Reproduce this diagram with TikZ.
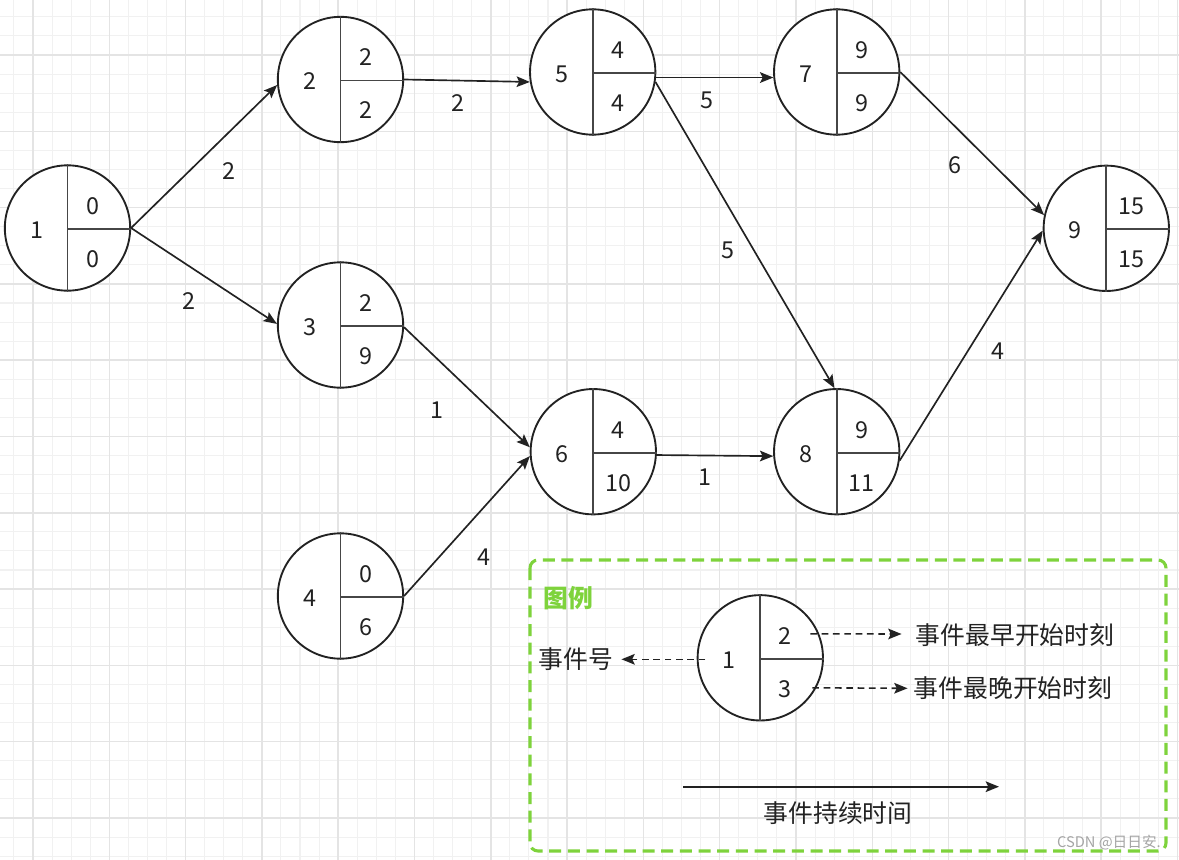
\documentclass[tikz,border=0pt]{standalone}
\usepackage{fontspec}
\setmainfont{Noto Sans CJK SC}
\usetikzlibrary{arrows.meta,calc}
\definecolor{grmin}{RGB}{241,241,241}
\definecolor{grmaj}{RGB}{228,228,228}
\definecolor{ink}{RGB}{34,34,34}
\definecolor{divc}{RGB}{70,70,70}
\definecolor{lgreen}{RGB}{126,211,60}
\definecolor{wmark}{RGB}{165,165,165}
\newcommand\evnode[6]{%
  \node[ev] (#1) at (#2,#3) {};
  \draw[divline] (#1.north) -- (#1.south);
  \draw[divline] ($(#1.center)+(0,1)$) -- ($(#1.east)+(0,1)$);
  \node[num] (#1-id) at ($(#1.center)+(-31,2)$) {#4};
  \node[num] (#1-e) at ($(#1.center)+(25,-22)$) {#5};
  \node[num] (#1-l) at ($(#1.center)+(25,31)$) {#6};
}
\begin{document}
\begin{tikzpicture}[x=0.75pt,y=-0.75pt,
  ev/.style={circle,draw=ink,line width=1.4pt,minimum size=94pt,inner sep=0pt,fill=white},
  divline/.style={draw=divc,line width=1.3pt},
  num/.style={font=\fontsize{17.5}{20}\selectfont,text=ink,inner sep=0pt},
  lab/.style={font=\fontsize{17.5}{20}\selectfont,text=ink,inner sep=0pt},
  cjk/.style={font=\fontsize{18.6}{22}\selectfont,text=ink,inner sep=0pt},
  conn/.style={draw=ink,line width=1.25pt,-{Stealth[length=10pt,width=8pt,inset=2pt]}},
  dconn/.style={draw=ink,line width=1.2pt,dash pattern=on 5pt off 3.5pt,-{Stealth[length=10pt,width=8pt,inset=2pt]}},
  minorline/.style={draw=grmin,line width=0.8pt},
  majorline/.style={draw=grmaj,line width=1.1pt}
]
\fill[white] (0,0) rectangle (1179,860);
\useasboundingbox (0,0) rectangle (1179,860);
\begin{scope}
\clip (0,0) rectangle (1179,860);
\foreach \i in {0,...,61}{
  \pgfmathsetmacro\gx{13.9+\i*19.075}
  \draw[minorline] (\gx,0) -- (\gx,860);
}
\foreach \j in {0,...,44}{
  \pgfmathsetmacro\gy{16.85+\j*19.075}
  \draw[minorline] (0,\gy) -- (1179,\gy);
}
\foreach \i in {0,...,15}{
  \pgfmathsetmacro\gx{33+\i*76.3}
  \draw[majorline] (\gx,0) -- (\gx,860);
}
\foreach \j in {0,...,10}{
  \pgfmathsetmacro\gy{55+\j*76.3}
  \draw[majorline] (0,\gy) -- (1179,\gy);
}
\end{scope}

% event nodes
\evnode{n1}{67.5}{228}{1}{0}{0}
\evnode{n2}{340.5}{79.5}{2}{2}{2}
\evnode{n3}{340.5}{325}{3}{2}{9}
\evnode{n4}{340.5}{596}{4}{0}{6}
\evnode{n5}{592.7}{72}{5}{4}{4}
\evnode{n6}{593.3}{451.7}{6}{4}{10}
\evnode{n7}{836.7}{72}{7}{9}{9}
\evnode{n8}{836.7}{451.7}{8}{9}{11}
\evnode{n9}{1106.3}{228.3}{9}{15}{15}

% connectors
\draw[conn] (n1.east) -- (n2.185);
\draw[conn] (n1.east) -- (n3.179);
\draw[conn] (n2.east) -- (n5.189);
\draw[conn] (n5.355) -- (n7.185);
\draw[conn] (n5.351) -- (n8.92);
\draw[conn] (n7.east) -- (n9.168);
\draw[conn] (n8.352) -- (n9.182);
\draw[conn] (n3.358) -- (n6.176);
\draw[conn] (n4.east) -- (n6.184);
\draw[conn] (n6.357) -- (n8.184);

% connector labels
\node[lab] (w12) at (229,171) {2};
\node[lab] (w13) at (189,301) {2};
\node[lab] (w25) at (458,103) {2};
\node[lab] (w57) at (707,100) {5};
\node[lab] (w79) at (955,165) {6};
\node[lab] (w58) at (728,250) {5};
\node[lab] (w89) at (998,351) {4};
\node[lab] (w36) at (437,410) {1};
\node[lab] (w46) at (484,557) {4};
\node[lab] (w68) at (705,477) {1};

% legend
\draw[lgreen,line width=2.3pt,dash pattern=on 9pt off 5pt,rounded corners=6pt] (530,560) rectangle (1166,851);
\node[font=\bfseries\fontsize{18.6}{22}\selectfont,text=lgreen,inner sep=0pt] (lt) at (568,597.7) {图例};
\evnode{L}{760.3}{657.8}{1}{2}{3}
\node[cjk] (t1) at (576,659.3) {事件号};
\node[cjk] (t2) at (1015,635) {事件最早开始时刻};
\node[cjk] (t3) at (1013,688.3) {事件最晚开始时刻};
\node[cjk] (t4) at (838,813.3) {事件持续时间};
\draw[dconn] ($(L.center)+(-55,1.5)$) -- ($(t1.east)+(8,0)$);
\draw[dconn] ($(L.center)+(50,-24)$) -- ($(t2.west)+(-14,-1)$);
\draw[dconn] ($(L.center)+(52,30)$) -- ($(t3.west)+(-6,0)$);
\coordinate (a1) at (683,786.7);
\coordinate (a2) at (999,786.7);
\draw[conn] (a1) -- (a2);
\node[font=\fontsize{11}{13}\selectfont,text=wmark,inner sep=0pt] (wm) at (1109,842.7) {CSDN @日日安.};
\end{tikzpicture}
\end{document}
